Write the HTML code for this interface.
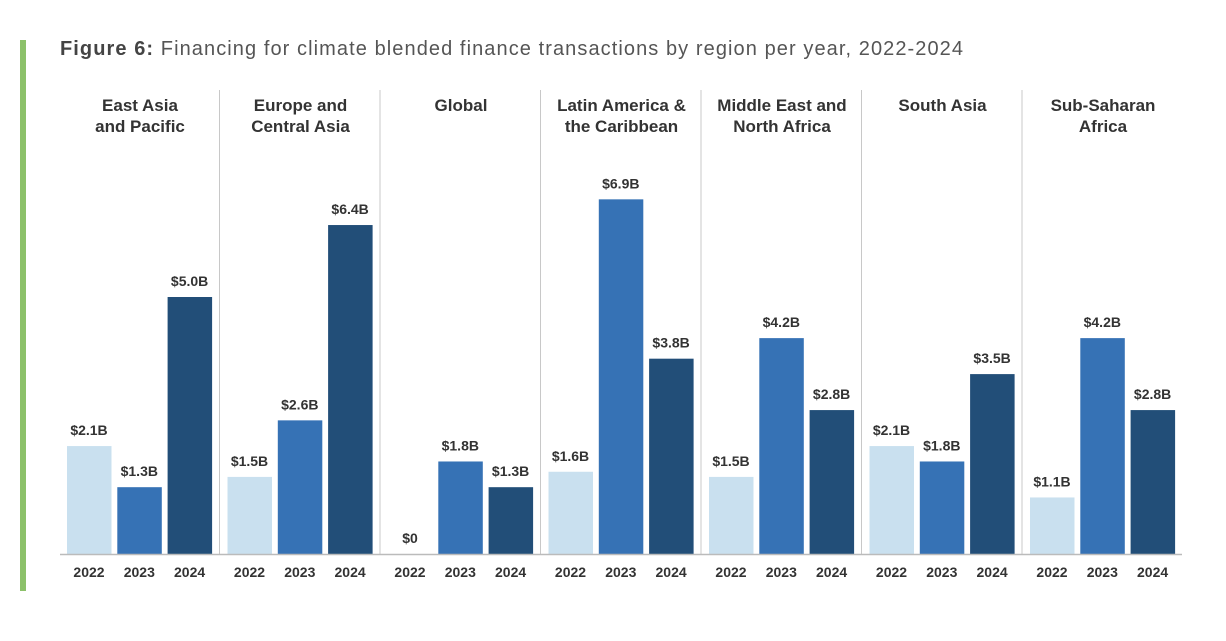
<!DOCTYPE html>
<html><head><meta charset="utf-8"><style>
body{margin:0;background:#fff;width:1226px;height:636px;overflow:hidden;font-family:"Liberation Sans",sans-serif}
</style></head><body>
<svg width="1226" height="636" xmlns="http://www.w3.org/2000/svg">
<rect x="20" y="40" width="6" height="551" fill="#8cc16a"/>
<text x="60" y="55" font-size="20" fill="#555" textLength="903" lengthAdjust="spacing"><tspan font-weight="bold" fill="#444">Figure 6:</tspan> Financing for climate blended finance transactions by region per year, 2022-2024</text>
<g id="plot"></g>
</svg>
<script>
const regions=[["East Asia","and Pacific"],["Europe and","Central Asia"],["Global"],["Latin America &","the Caribbean"],["Middle East and","North Africa"],["South Asia"],["Sub-Saharan","Africa"]];
const years=["2022","2023","2024"];
const v2022=[2.1,1.5,0,1.6,1.5,2.1,1.1];
const v2023=[1.3,2.6,1.8,6.9,4.2,1.8,4.2];
const v2024=[5.0,6.4,1.3,3.8,2.8,3.5,2.8];
const colors=["#c9e0ef","#3672b5","#224e78"];
const ns="http://www.w3.org/2000/svg";
const g=document.getElementById('plot');
const base=554, ppu=51.4, gx0=60, gw=160.5;
const y=v=>base-v*ppu;
const x=(gi,si)=>gx0+7+gi*gw+si*50.3;
function el(t,a){const e=document.createElementNS(ns,t);for(const k in a)e.setAttribute(k,a[k]);g.appendChild(e);return e;}
const series=[v2022,v2023,v2024];
regions.forEach((r,gi)=>{
  if(gi>0){const d=el('line',{x1:gx0+gi*gw-1,x2:gx0+gi*gw-1,y1:90,y2:base,stroke:'#c8c8c8','stroke-width':1});
  }
  r.forEach((ln,li)=>{const t=el('text',{x:gx0+gi*gw+80,y:111+li*21,'font-size':17,'font-weight':'bold',fill:'#333','text-anchor':'middle'});t.textContent=ln;
  });
  series.forEach((s,si)=>{
    const v=s[gi];
    const b=el('rect',{x:x(gi,si),y:y(v),width:44.5,height:base-y(v),fill:colors[si]});
    
    const lab=el('text',{x:x(gi,si)+22,y:y(v)-11,'font-size':14,'font-weight':'bold',fill:'#333','text-anchor':'middle'});
    lab.textContent=v===0?'$0':'$'+v.toFixed(1)+'B';
    
    const yl=el('text',{x:x(gi,si)+22,y:577,'font-size':14,'font-weight':'bold',fill:'#333','text-anchor':'middle'});
    yl.textContent=years[si];
    
  });
});
const ax=el('line',{x1:gx0,x2:1182,y1:base+0.5,y2:base+0.5,stroke:'#bbb','stroke-width':1.5});

</script>
</body></html>
